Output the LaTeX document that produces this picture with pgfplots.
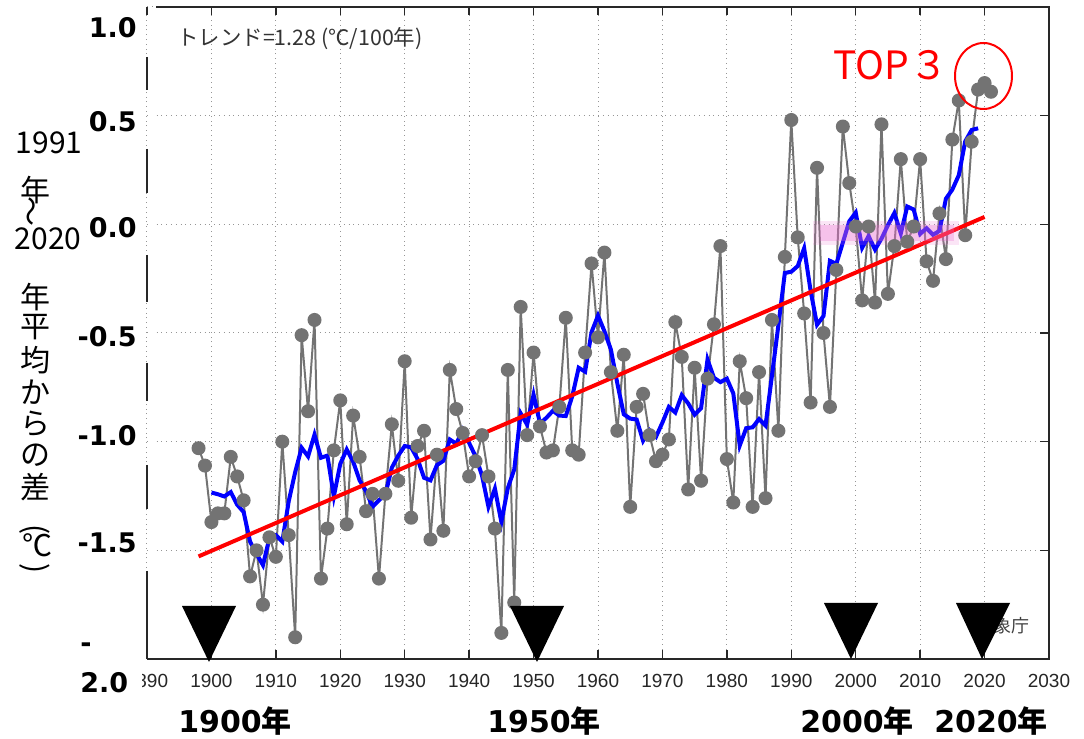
\documentclass[border=0pt]{standalone}
\usepackage{fontspec}
\setmainfont{Liberation Sans}
\newfontfamily\cjk{Noto Sans CJK JP}
\newfontfamily\dvb{DejaVu Sans}
\usepackage{pgfplots}
\pgfplotsset{compat=1.18}
\usepackage{pgfplotstable}
\definecolor{ptgray}{RGB}{115,115,115}
\definecolor{gridgray}{RGB}{150,150,150}
\definecolor{framegray}{RGB}{40,40,40}
\definecolor{pinkband}{RGB}{235,110,205}

\pgfplotstableread{
year val
1898 -1.03
1899 -1.11
1900 -1.37
1901 -1.33
1902 -1.33
1903 -1.07
1904 -1.16
1905 -1.27
1906 -1.62
1907 -1.50
1908 -1.75
1909 -1.44
1910 -1.53
1911 -1.00
1912 -1.43
1913 -1.90
1914 -0.51
1915 -0.86
1916 -0.44
1917 -1.63
1918 -1.40
1919 -1.04
1920 -0.81
1921 -1.38
1922 -0.88
1923 -1.07
1924 -1.32
1925 -1.24
1926 -1.63
1927 -1.24
1928 -0.92
1929 -1.18
1930 -0.63
1931 -1.35
1932 -1.02
1933 -0.95
1934 -1.45
1935 -1.06
1936 -1.41
1937 -0.67
1938 -0.85
1939 -0.96
1940 -1.16
1941 -1.09
1942 -0.97
1943 -1.16
1944 -1.40
1945 -1.88
1946 -0.67
1947 -1.74
1948 -0.38
1949 -0.97
1950 -0.59
1951 -0.93
1952 -1.05
1953 -1.04
1954 -0.84
1955 -0.43
1956 -1.04
1957 -1.06
1958 -0.59
1959 -0.18
1960 -0.52
1961 -0.13
1962 -0.68
1963 -0.95
1964 -0.60
1965 -1.30
1966 -0.84
1967 -0.78
1968 -0.97
1969 -1.09
1970 -1.06
1971 -0.99
1972 -0.45
1973 -0.61
1974 -1.22
1975 -0.66
1976 -1.18
1977 -0.71
1978 -0.46
1979 -0.10
1980 -1.08
1981 -1.28
1982 -0.63
1983 -0.80
1984 -1.30
1985 -0.68
1986 -1.26
1987 -0.44
1988 -0.95
1989 -0.15
1990 0.48
1991 -0.06
1992 -0.41
1993 -0.82
1994 0.26
1995 -0.50
1996 -0.84
1997 -0.21
1998 0.45
1999 0.19
2000 -0.01
2001 -0.35
2002 -0.01
2003 -0.36
2004 0.46
2005 -0.32
2006 -0.10
2007 0.30
2008 -0.08
2009 -0.01
2010 0.30
2011 -0.17
2012 -0.26
2013 0.05
2014 -0.16
2015 0.39
2016 0.57
2017 -0.05
2018 0.38
2019 0.62
2020 0.65
2021 0.61
}\annual

\pgfplotstableread{
year val
1900 -1.234
1901 -1.242
1902 -1.252
1903 -1.232
1904 -1.290
1905 -1.324
1906 -1.460
1907 -1.516
1908 -1.568
1909 -1.444
1910 -1.430
1911 -1.460
1912 -1.274
1913 -1.140
1914 -1.028
1915 -1.068
1916 -0.968
1917 -1.074
1918 -1.064
1919 -1.252
1920 -1.102
1921 -1.036
1922 -1.092
1923 -1.178
1924 -1.228
1925 -1.300
1926 -1.270
1927 -1.242
1928 -1.120
1929 -1.064
1930 -1.020
1931 -1.026
1932 -1.080
1933 -1.166
1934 -1.178
1935 -1.108
1936 -1.088
1937 -0.990
1938 -1.010
1939 -0.946
1940 -1.006
1941 -1.068
1942 -1.156
1943 -1.300
1944 -1.216
1945 -1.370
1946 -1.214
1947 -1.128
1948 -0.870
1949 -0.922
1950 -0.784
1951 -0.916
1952 -0.890
1953 -0.858
1954 -0.880
1955 -0.882
1956 -0.792
1957 -0.660
1958 -0.678
1959 -0.496
1960 -0.420
1961 -0.492
1962 -0.576
1963 -0.732
1964 -0.874
1965 -0.894
1966 -0.898
1967 -0.996
1968 -0.948
1969 -0.978
1970 -0.912
1971 -0.840
1972 -0.866
1973 -0.786
1974 -0.824
1975 -0.876
1976 -0.846
1977 -0.622
1978 -0.706
1979 -0.726
1980 -0.710
1981 -0.778
1982 -1.018
1983 -0.938
1984 -0.934
1985 -0.896
1986 -0.926
1987 -0.696
1988 -0.464
1989 -0.224
1990 -0.218
1991 -0.192
1992 -0.110
1993 -0.306
1994 -0.462
1995 -0.422
1996 -0.168
1997 -0.182
1998 -0.084
1999 0.014
2000 0.054
2001 -0.108
2002 -0.054
2003 -0.116
2004 -0.066
2005 -0.004
2006 0.052
2007 -0.042
2008 0.082
2009 0.068
2010 -0.044
2011 -0.018
2012 -0.048
2013 -0.030
2014 0.118
2015 0.160
2016 0.226
2017 0.382
2018 0.434
2019 0.442
}\runmean

\begin{document}
\begin{tikzpicture}[x=0.5pt,y=0.5pt]
\path[use as bounding box] (0,0) rectangle (1084,739);
\begin{axis}[
  at={(73.5pt,40pt)}, anchor=south west,
  scale only axis, width=451pt, height=326pt,
  xmin=1890, xmax=2030, ymin=-2, ymax=1,
  xtick={1890,1900,1910,1920,1930,1940,1950,1960,1970,1980,1990,2000,2010,2020,2030},
  xticklabels={1890,1900,1910,1920,1930,1940,1950,1960,1970,1980,1990,2000,2010,2020,2030},
  ytick={-2,-1.5,-1,-0.5,0,0.5,1},
  yticklabels={},
  ytick pos=right,
  xtick pos=both,
  xticklabel pos=lower,
  tick align=inside,
  major tick length=4.25pt,
  tick style={framegray, line width=0.75pt},
  axis line style={draw=none},
  grid=major,
  major grid style={gridgray, dotted, line width=0.5pt},
  xticklabel style={font=\fontsize{9.5}{10}\selectfont, text=black!85, yshift=-4pt},
  clip=false,
]
\addplot[color=ptgray, line width=1pt, mark=*, mark size=3pt,
  mark options={fill=ptgray, draw=ptgray, solid}] table[x=year,y=val]{\annual};
\addplot[color=blue, line width=2pt, no marks] table[x=year,y=val]{\runmean};
\addplot[color=red, line width=2pt, no marks] coordinates {(1898,-1.528) (2020,0.034)};
\fill[pinkband, opacity=0.18] (axis cs:1993.3,-0.095) rectangle (axis cs:2016,0.015);
\fill[pinkband, opacity=0.3] (axis cs:1994.5,-0.075) rectangle (axis cs:2015.2,-0.005);
\draw[framegray, line width=1.2pt] (axis cs:1891.4,1) -- (axis cs:2030,1) -- (axis cs:2030,-2) -- (axis cs:1890,-2);
\end{axis}
% white cover at left edge
\fill[white] (148,82) rectangle (156,731);
\fill[white] (0,40) rectangle (142,76);
% left axis segments
\draw[framegray, line width=1pt] (147,682)--(147,649) (147,590)--(147,546) (147,484)--(147,437)
  (147,376)--(147,338) (147,274)--(147,230) (147,168)--(147,80);
% trend text
\node[anchor=base west, inner sep=0, font=\cjk\fontsize{10.7}{10.7}\selectfont, text=black!80] at (177,693) {トレンド=1.28 (℃/100年)};
% TOP3
\node[anchor=base west, inner sep=0, font=\cjk\fontsize{19.5}{19.5}\selectfont, text=red] at (833,659) {TOP３};
\draw[red, line width=1pt] (983.5,663) ellipse [x radius=14.25pt, y radius=16.5pt];
% agency
\node[anchor=east, inner sep=0, font=\cjk\fontsize{9}{9}\selectfont, text=black!75] at (1030,113) {気象庁};
% triangles
\fill[black] (182,133) -- (236,133) -- (209,77) -- cycle;
\fill[black] (510,133) -- (564,133) -- (537,77) -- cycle;
\fill[black] (824,136) -- (878,136) -- (851,80) -- cycle;
\fill[black] (956,136) -- (1010,136) -- (982,80) -- cycle;
% y labels
\begin{scope}[every node/.style={inner sep=0, font=\dvb\bfseries\fontsize{13.5}{14}\selectfont}]
\node[anchor=base east] at (137,701) {1.0};
\node[anchor=base east] at (137,607) {0.5};
\node[anchor=base east] at (137,501) {0.0};
\node[anchor=base east] at (137,392) {-0.5};
\node[anchor=base east] at (137,293) {-1.0};
\node[anchor=base east] at (137,186) {-1.5};
\node[anchor=center] at (86,91) {-};
\node[anchor=base west] at (80,46) {2.0};
\end{scope}
% bottom year labels
\begin{scope}[every node/.style={inner sep=0, anchor=base}]
\node at (235,6) {\dvb\bfseries\fontsize{15}{15}\selectfont 1900\cjk 年};
\node at (544,6) {\dvb\bfseries\fontsize{15}{15}\selectfont 1950\cjk 年};
\node at (857,6) {\dvb\bfseries\fontsize{15}{15}\selectfont 2000\cjk 年};
\node at (991,6) {\dvb\bfseries\fontsize{15}{15}\selectfont 2020\cjk 年};
\end{scope}
% y-axis title (vertical)
\begin{scope}[every node/.style={inner sep=0, anchor=center, font=\cjk\fontsize{15}{15}\selectfont}]
\node at (49,596) {1991};
\node at (35,549) {年};
\node[rotate=90] at (35,527) {〜};
\node at (48,500) {2020};
\node at (35,442) {年};
\node at (35,412) {平};
\node at (35,379) {均};
\node at (35,347) {か};
\node at (35,315) {ら};
\node at (35,284) {の};
\node at (35,252) {差};
\node[rotate=-90] at (35,209) {(};
\node at (38,194) {℃};
\node[rotate=-90] at (35,170) {)};
\end{scope}
\end{tikzpicture}
\end{document}
